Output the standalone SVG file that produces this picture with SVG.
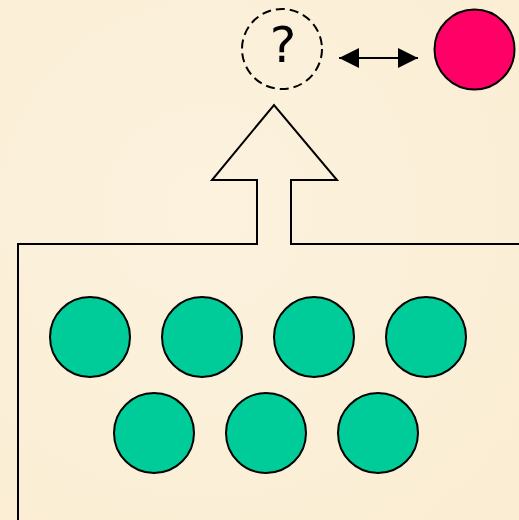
<svg xmlns="http://www.w3.org/2000/svg" width="519" height="520" viewBox="0 0 519 520">
  <style>
    .outline { fill: none; stroke: #000; stroke-width: 2; }
    .member { fill: #00CC99; stroke: #000; stroke-width: 2; }
    .target { fill: #FF0066; stroke: #000; stroke-width: 2; }
    .unknown { fill: none; stroke: #000; stroke-width: 2; stroke-dasharray: 9 5; }
    .label { font-family: "DejaVu Sans", Verdana, sans-serif; font-size: 50px; fill: #000; }
  </style>
  <defs>
    <marker id="head" viewBox="0 0 20 20" refX="20" refY="10" markerWidth="20" markerHeight="20" markerUnits="userSpaceOnUse" orient="auto-start-reverse">
      <path d="M0,0 L20,10 L0,20 Z" fill="#000"/>
    </marker>
    <radialGradient id="paper" cx="0.4" cy="0.4" r="0.8">
      <stop offset="0" stop-color="#FCF2DE"/>
      <stop offset="1" stop-color="#FAEDD3"/>
    </radialGradient>
  </defs>

  <!-- parchment background -->
  <rect x="0" y="0" width="519" height="520" fill="url(#paper)"/>

  <!-- group boundary with an upward arrow outlet -->
  <g id="group-outline">
    <path class="outline" d="M18,521 L18,244 L257,244 L257,180 L212,180 L274,105 L337,180 L291,180 L291,244 L520,244"/>
  </g>

  <!-- unknown result -->
  <g id="unknown">
    <circle class="unknown" cx="282" cy="49" r="40"/>
    <text class="label" x="283" y="62" text-anchor="middle">?</text>
  </g>

  <!-- comparison target -->
  <g id="target">
    <circle class="target" cx="474.5" cy="49.5" r="40"/>
  </g>

  <!-- connectors -->
  <g id="connectors">
    <line x1="339" y1="58" x2="418" y2="58" stroke="#000" stroke-width="2" marker-start="url(#head)" marker-end="url(#head)"/>
  </g>

  <!-- group members -->
  <g id="member-1"><circle class="member" cx="90" cy="337" r="40"/></g>
  <g id="member-2"><circle class="member" cx="202" cy="337" r="40"/></g>
  <g id="member-3"><circle class="member" cx="314" cy="337" r="40"/></g>
  <g id="member-4"><circle class="member" cx="426" cy="337" r="40"/></g>
  <g id="member-5"><circle class="member" cx="154" cy="433" r="40"/></g>
  <g id="member-6"><circle class="member" cx="266" cy="433" r="40"/></g>
  <g id="member-7"><circle class="member" cx="378" cy="433" r="40"/></g>
</svg>
